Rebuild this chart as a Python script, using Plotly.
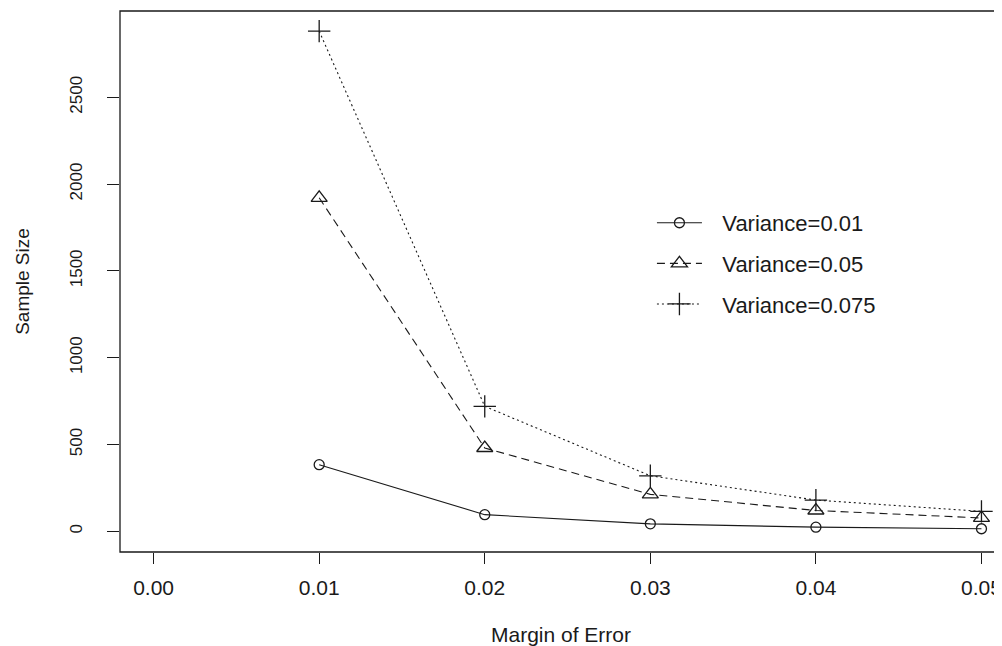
import plotly.graph_objects as go

margin_of_error = [0.01, 0.02, 0.03, 0.04, 0.05]
var_001 = [384, 96, 43, 24, 15]
var_005 = [1921, 480, 213, 120, 77]
var_0075 = [2881, 720, 320, 180, 115]
series_names = ["Variance=0.01", "Variance=0.05", "Variance=0.075"]
x_ticks = [0.00, 0.01, 0.02, 0.03, 0.04, 0.05]
y_ticks = [0, 500, 1000, 1500, 2000, 2500]

INK = "#1a1a1a"
FONT = "Liberation Sans, Arial, sans-serif"
PAD = "\u2002\u2009"

fig = go.Figure()
styles = [
    (var_001, "solid", "circle-open", 10),
    (var_005, "8px,5px", "triangle-up-open", 14),
    (var_0075, "2px,3px", "cross-thin-open", 16),
]
for i, (vals, dash, sym, sz) in enumerate(styles):
    fig.add_trace(go.Scatter(
        x=margin_of_error, y=vals, mode="lines+markers", name=PAD + series_names[i],
        legendgroup=f"g{i}",
        line=dict(color=INK, width=1.1, dash=dash),
        marker=dict(symbol=sym, size=sz, color=INK, line=dict(color=INK, width=1.3)),
    ))

# frame (left, top, bottom; right edge falls outside the window)
fig.add_shape(type="rect", xref="paper", yref="paper", x0=0, x1=1.05, y0=0, y1=1,
              line=dict(color=INK, width=1.3), fillcolor="rgba(0,0,0,0)", layer="above")

fig.update_layout(
    width=994, height=638,
    margin=dict(l=112, r=0, t=3, b=94),
    paper_bgcolor="white", plot_bgcolor="white",
    font=dict(family=FONT, color=INK),
    showlegend=True,
    legend=dict(x=0.6031, y=0.647, xanchor="left", yanchor="top",
                bgcolor="rgba(0,0,0,0)", borderwidth=0, font=dict(size=22, family=FONT, color=INK),
                tracegroupgap=9, itemwidth=45),
    xaxis=dict(range=[-0.00203, 0.05124], tickvals=x_ticks, ticktext=[f"{v:.2f}" for v in x_ticks],
               showgrid=False, zeroline=False, showline=False, ticks="outside", ticklen=11,
               tickcolor=INK, tickwidth=1.3, tickfont=dict(size=21), automargin=False,
               ticklabelstandoff=6,
               title=dict(text="Margin of Error", font=dict(size=21), standoff=30)),
    yaxis=dict(range=[-119, 2997], tickvals=y_ticks, showgrid=False, zeroline=False,
               showline=False, ticks="outside", ticklen=12, tickcolor=INK, tickwidth=1.3,
               tickangle=-90, tickfont=dict(size=17), automargin=False,
               ticklabelstandoff=18,
               title=dict(text="Sample Size", font=dict(size=19), standoff=32)),
)

fig.write_html("out.html")
